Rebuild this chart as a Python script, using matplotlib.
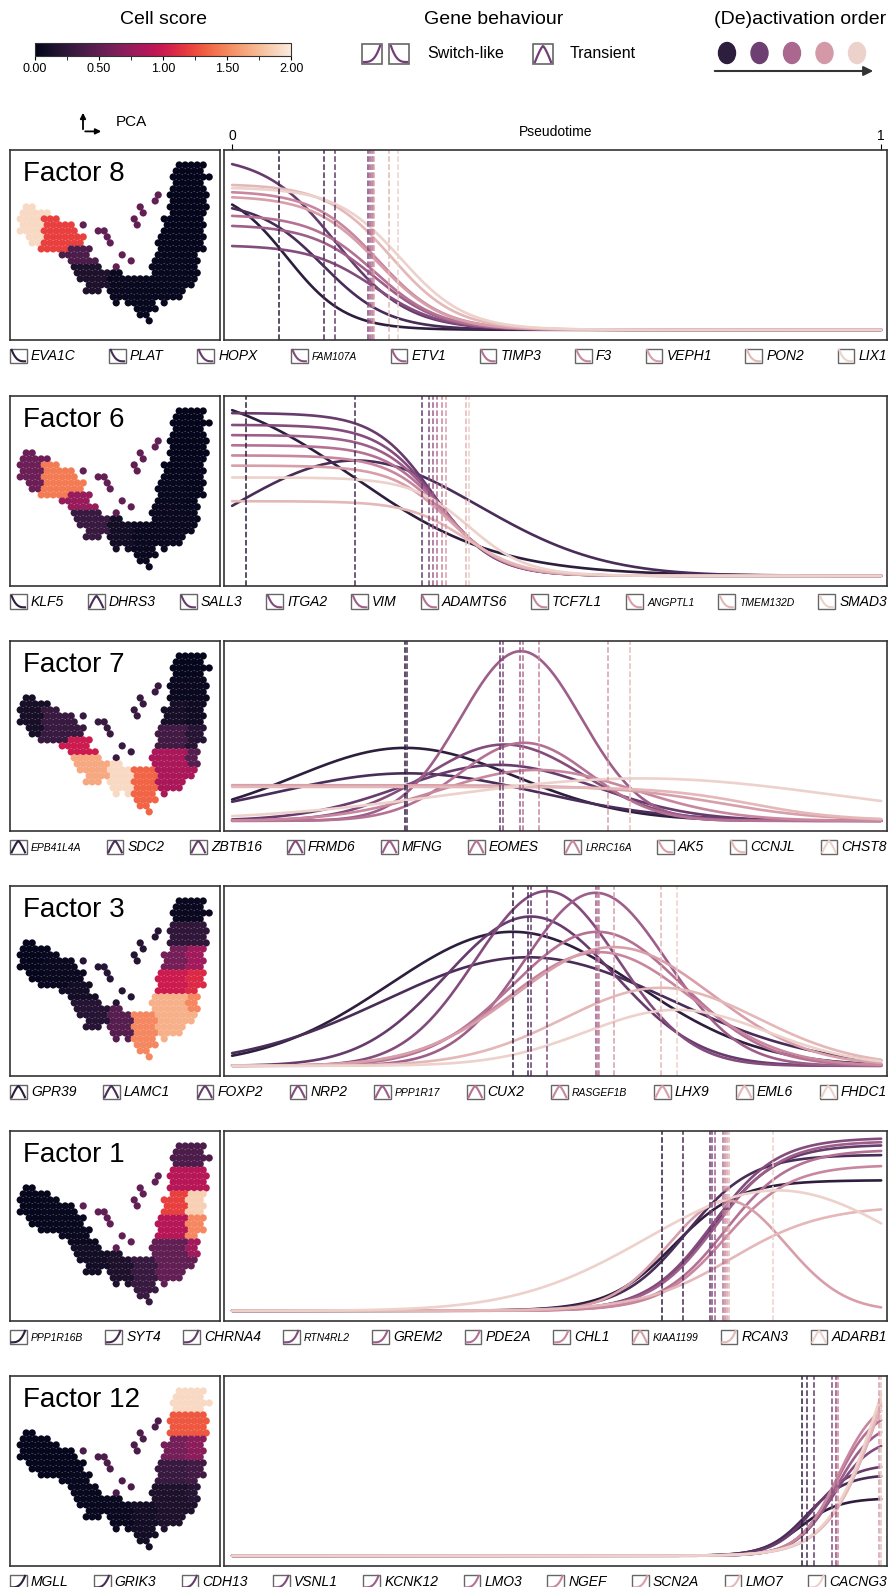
import numpy as np
import matplotlib.pyplot as plt
import seaborn as sns
from matplotlib.patches import Rectangle, Ellipse
from matplotlib.lines import Line2D
from matplotlib.legend_handler import HandlerBase
from matplotlib.cm import ScalarMappable
from matplotlib.colors import Normalize
from matplotlib.ticker import MultipleLocator

plt.rcParams['font.family'] = ['Liberation Sans', 'DejaVu Sans']

# ---------------- data ----------------
# PCA embedding of the cells, read off the picture as a coarse grid.
# letters = position along the trajectory (region), '.' = no cell
pca_grid = [
    "....................................",
    "....................................",
    "....................................",
    "...........................kkkkk....",
    "...........................kkkkk....",
    "..........................kkkkkkk...",
    "...........................kkkkk....",
    "..........................jjjjjj....",
    "........................s.jjjjjjj...",
    ".......................s..jjjjjj....",
    "..aa.................s....jjjjjjj...",
    ".aaaaa...............s....iiiIII....",
    ".aaaabbb............s....iiiiIII....",
    ".aaaabbbbb.s........s....iiiiIII....",
    ".aaaabbbbbb...ss.........iiiiIII....",
    "..aaabbbbbbb...s........hhhhhHHH....",
    "...aabbbbbbb....s.......hhhhhHHH....",
    "....bbbbbcccc...........hhhhhHHH....",
    "........ccccc.....s.....hhhhhHH.....",
    ".........ccccc.....s...ggggggGG.....",
    "..........ddddd..s.....ggggggGG.....",
    "..........ddddddee.....ggggggGG.....",
    "...........dddddeeeeffffggggggg.....",
    "............ddddeeeeffffgggggg......",
    "............ddd.eeeeffffggggg.......",
    "................eeeeffffgggg........",
    ".................e.effff.g..........",
    "....................ffff............",
    ".....................ff.............",
    "......................f.............",
]
regions = "abcdefgGhHiIjks"

factors = [8, 6, 7, 3, 1, 12]
# cell score per region, in the order of `regions`
score_f8 = [1.9, 1.2, 0.4, 0.15, 0.05, 0.04, 0.04, 0.03, 0.03, 0.03, 0.02, 0.02, 0.02, 0.02, 0.5]
score_f6 = [0.55, 1.45, 0.75, 0.3, 0.1, 0.05, 0.05, 0.04, 0.04, 0.03, 0.03, 0.03, 0.02, 0.02, 0.5]
score_f7 = [0.12, 0.3, 1.0, 1.65, 1.9, 1.35, 0.85, 0.45, 0.35, 0.2, 0.12, 0.08, 0.05, 0.03, 0.3]
score_f3 = [0.03, 0.05, 0.1, 0.2, 0.45, 1.5, 1.7, 1.5, 1.0, 1.1, 0.6, 0.8, 0.25, 0.05, 0.2]
score_f1 = [0.03, 0.04, 0.06, 0.1, 0.15, 0.3, 0.5, 0.8, 0.9, 1.5, 1.2, 1.85, 0.9, 0.4, 0.5]
score_f12 = [0.03, 0.03, 0.04, 0.04, 0.05, 0.1, 0.15, 0.2, 0.3, 0.35, 0.6, 0.7, 1.3, 1.9, 0.4]

# genes per factor: name, behaviour, level, midpoint, width, (de)activation time
genes_f8 = ['EVA1C', 'PLAT', 'HOPX', 'FAM107A', 'ETV1', 'TIMP3', 'F3', 'VEPH1', 'PON2', 'LIX1']
kind_f8 = ['down'] * 10
level_f8 = [0.85, 0.76, 1.03, 0.50, 0.62, 0.68, 0.82, 0.79, 0.86, 0.84]
mid_f8 = [0.085, 0.14, 0.16, 0.22, 0.22, 0.22, 0.225, 0.225, 0.245, 0.26]
width_f8 = [0.045, 0.05, 0.055, 0.05, 0.05, 0.05, 0.05, 0.05, 0.05, 0.05]
act_f8 = [0.073, 0.142, 0.159, 0.209, 0.212, 0.215, 0.217, 0.219, 0.242, 0.256]

genes_f6 = ['KLF5', 'DHRS3', 'SALL3', 'ITGA2', 'VIM', 'ADAMTS6', 'TCF7L1', 'ANGPTL1', 'TMEM132D', 'SMAD3']
kind_f6 = ['down', 'peak'] + ['down'] * 8
level_f6 = [1.15, 0.68, 0.96, 0.89, 0.83, 0.77, 0.71, 0.65, 0.44, 0.58]
mid_f6 = [0.19, 0.19, 0.31, 0.315, 0.32, 0.325, 0.33, 0.335, 0.36, 0.365]
width_f6 = [0.11, 0.19, 0.045, 0.045, 0.045, 0.045, 0.045, 0.045, 0.045, 0.045]
act_f6 = [0.022, 0.19, 0.292, 0.303, 0.309, 0.315, 0.324, 0.329, 0.36, 0.365]

genes_f7 = ['EPB41L4A', 'SDC2', 'ZBTB16', 'FRMD6', 'MFNG', 'EOMES', 'LRRC16A', 'AK5', 'CCNJL', 'CHST8']
kind_f7 = ['peak'] * 7 + ['down', 'down', 'peak']
level_f7 = [0.43, 0.28, 0.33, 0.45, 1.0, 0.46, 0.30, 0.21, 0.20, 0.25]
mid_f7 = [0.267, 0.27, 0.41, 0.42, 0.445, 0.45, 0.47, 0.75, 0.80, 0.63]
width_f7 = [0.17, 0.2, 0.15, 0.12, 0.093, 0.1, 0.15, 0.08, 0.07, 0.3]
act_f7 = [0.267, 0.27, 0.412, 0.418, 0.443, 0.448, 0.473, 0.579, 0.613, 0.613]

genes_f3 = ['GPR39', 'LAMC1', 'FOXP2', 'NRP2', 'PPP1R17', 'CUX2', 'RASGEF1B', 'LHX9', 'EML6', 'FHDC1']
kind_f3 = ['peak'] * 10
level_f3 = [0.79, 0.64, 0.88, 1.03, 1.02, 0.79, 0.67, 0.70, 0.46, 0.33]
mid_f3 = [0.432, 0.456, 0.46, 0.485, 0.56, 0.563, 0.566, 0.588, 0.661, 0.685]
width_f3 = [0.19, 0.22, 0.13, 0.11, 0.11, 0.13, 0.14, 0.15, 0.15, 0.14]
act_f3 = [0.432, 0.456, 0.46, 0.485, 0.56, 0.563, 0.566, 0.588, 0.661, 0.685]

genes_f1 = ['PPP1R16B', 'SYT4', 'CHRNA4', 'RTN4RL2', 'GREM2', 'PDE2A', 'CHL1', 'KIAA1199', 'RCAN3', 'ADARB1']
kind_f1 = ['up'] * 7 + ['peak', 'up', 'peak']
level_f1 = [0.77, 0.92, 0.98, 1.02, 1.0, 0.95, 0.86, 0.65, 0.62, 0.71]
mid_f1 = [0.68, 0.70, 0.74, 0.74, 0.745, 0.76, 0.76, 0.763, 0.77, 0.84]
width_f1 = [0.05, 0.05, 0.05, 0.05, 0.05, 0.05, 0.05, 0.09, 0.07, 0.2]
act_f1 = [0.663, 0.694, 0.736, 0.739, 0.744, 0.757, 0.76, 0.763, 0.765, 0.833]

genes_f12 = ['MGLL', 'GRIK3', 'CDH13', 'VSNL1', 'KCNK12', 'LMO3', 'NGEF', 'SCN2A', 'LMO7', 'CACNG3']
kind_f12 = ['up'] * 10
level_f12 = [0.34, 0.48, 0.54, 0.70, 0.80, 0.88, 0.95, 1.7, 1.8, 1.9]
mid_f12 = [0.875, 0.885, 0.895, 0.925, 0.93, 0.931, 0.934, 0.997, 1.0, 1.0]
width_f12 = [0.03, 0.03, 0.03, 0.03, 0.03, 0.03, 0.03, 0.04, 0.04, 0.04]
act_f12 = [0.878, 0.886, 0.897, 0.925, 0.93, 0.931, 0.934, 0.997, 1.0, 1.0]

# labels that are printed smaller in the original
small_labels = ['FAM107A', 'ANGPTL1', 'TMEM132D', 'EPB41L4A', 'LRRC16A', 'PPP1R17',
                'RASGEF1B', 'PPP1R16B', 'RTN4RL2', 'KIAA1199']

rows = [
    (score_f8, genes_f8, kind_f8, level_f8, mid_f8, width_f8, act_f8),
    (score_f6, genes_f6, kind_f6, level_f6, mid_f6, width_f6, act_f6),
    (score_f7, genes_f7, kind_f7, level_f7, mid_f7, width_f7, act_f7),
    (score_f3, genes_f3, kind_f3, level_f3, mid_f3, width_f3, act_f3),
    (score_f1, genes_f1, kind_f1, level_f1, mid_f1, width_f1, act_f1),
    (score_f12, genes_f12, kind_f12, level_f12, mid_f12, width_f12, act_f12),
]

# ---------------- style ----------------
rocket = sns.color_palette("rocket", as_cmap=True)
gene_colors = sns.cubehelix_palette(10, reverse=True)
order_colors = sns.cubehelix_palette(5, reverse=True)
behaviour_color = '#733d78'
frame_color = '#333333'

W, H = 893, 1587
fig = plt.figure(figsize=(W / 100, H / 100), dpi=100)


def rect(x0, y0, x1, y1):
    return [x0 / W, 1 - y1 / H, (x1 - x0) / W, (y1 - y0) / H]


def icon_curve(kind):
    s = np.linspace(0, 1, 40)
    if kind == 'down':
        return s, (1 - s) ** 3
    if kind == 'up':
        return s, s ** 3
    return s, 1 - np.abs(2 * s - 1) ** 1.3


class Gene:
    def __init__(self, kind, color):
        self.kind = kind
        self.color = color


class IconHandler(HandlerBase):
    def create_artists(self, legend, h, xd, yd, width, height, fontsize, trans):
        x0, y0 = -xd, -yd
        box = Rectangle((x0, y0), width, height, fc='none', ec='#666666', lw=1.0, transform=trans)
        xs, ys = icon_curve(h.kind)
        p = 0.1
        line = Line2D(x0 + (p + xs * (1 - 2 * p)) * width, y0 + (p + ys * (1 - 2 * p)) * height,
                      color=h.color, lw=1.5, transform=trans)
        return [box, line]


# overlay in pixel coordinates for the header decorations
ov = fig.add_axes([0, 0, 1, 1])
ov.set_xlim(0, W)
ov.set_ylim(H, 0)
ov.axis('off')


def draw_icon(x0, y0, size, kind, color):
    ov.add_patch(Rectangle((x0, y0), size, size, fc='none', ec='#666666', lw=1.2))
    xs, ys = icon_curve(kind)
    p = 0.1
    ov.plot(x0 + (p + xs * (1 - 2 * p)) * size, y0 + size - (p + ys * (1 - 2 * p)) * size,
            color=color, lw=1.6)


# Cell score colour bar
ov.text(163, 20, 'Cell score', ha='center', va='center', fontsize=14)
cax = fig.add_axes(rect(35, 43, 291, 56))
cb = fig.colorbar(ScalarMappable(norm=Normalize(0, 2), cmap=rocket), cax=cax, orientation='horizontal')
cb.set_ticks([0, 0.5, 1, 1.5, 2])
cb.set_ticklabels(['0.00', '0.50', '1.00', '1.50', '2.00'])
cax.xaxis.set_minor_locator(MultipleLocator(0.25))
cax.tick_params(which='both', length=3, labelsize=9, pad=2)
cb.outline.set_edgecolor(frame_color)

# Gene behaviour legend
ov.text(494, 20, 'Gene behaviour', ha='center', va='center', fontsize=14)
draw_icon(362, 44, 20, 'up', behaviour_color)
draw_icon(389, 44, 20, 'down', behaviour_color)
ov.text(427, 54, 'Switch-like', va='center', fontsize=11.5)
draw_icon(533, 44, 20, 'peak', behaviour_color)
ov.text(570, 54, 'Transient', va='center', fontsize=11.5)

# (De)activation order
ov.text(800, 20, '(De)activation order', ha='center', va='center', fontsize=14)
for i, c in enumerate(order_colors):
    ov.add_patch(Ellipse((727 + 32.5 * i, 53), 17, 21, color=c))
ov.annotate('', xy=(876, 71), xytext=(712, 71),
            arrowprops=dict(arrowstyle='-|>', color='#333333', lw=1.5, mutation_scale=14))

# PCA axes icon
ov.annotate('', xy=(83, 110), xytext=(83, 132),
            arrowprops=dict(arrowstyle='-|>', color='black', lw=1.3, mutation_scale=8))
ov.annotate('', xy=(104, 131.4), xytext=(82.4, 131.4),
            arrowprops=dict(arrowstyle='-|>', color='black', lw=1.3, mutation_scale=8))
ov.text(116, 122, 'PCA', va='center', fontsize=11)

# ---------------- panels ----------------
tops = [150, 396, 641, 886, 1131, 1376]
panel_h = 190
t = np.linspace(0, 1, 400)

cell_rows, cell_cols, cell_region = [], [], []
for r, line in enumerate(pca_grid):
    for c, ch in enumerate(line):
        if ch != '.':
            cell_rows.append(r)
            cell_cols.append(c + 0.5 * (r % 2))  # hexagonal packing
            cell_region.append(regions.index(ch))
cell_rows = np.array(cell_rows)
cell_cols = np.array(cell_cols)
cell_region = np.array(cell_region)

for k, (scores, names, kinds, levels, mids, widths, acts) in enumerate(rows):
    top = tops[k]
    bottom = top + panel_h

    # PCA panel
    axs = fig.add_axes(rect(10, top, 220, bottom))
    axs.scatter(cell_cols, cell_rows, c=np.array(scores)[cell_region], cmap=rocket,
                vmin=0, vmax=2, s=27, linewidths=0)
    axs.set_xlim(-0.7, 34.3)
    axs.set_ylim(32.2, 0.5)
    axs.set_xticks([])
    axs.set_yticks([])
    axs.text(0.06, 0.94, f'Factor {factors[k]}', transform=axs.transAxes,
             ha='left', va='top', fontsize=20)

    # pseudotime panel
    axl = fig.add_axes(rect(224, top, 887, bottom))
    for i in range(len(names)):
        if kinds[i] == 'down':
            y = levels[i] / (1 + np.exp((t - mids[i]) / widths[i]))
        elif kinds[i] == 'up':
            y = levels[i] / (1 + np.exp(-(t - mids[i]) / widths[i]))
        else:
            y = levels[i] * np.exp(-0.5 * ((t - mids[i]) / widths[i]) ** 2)
        axl.plot(t, y, color=gene_colors[i], lw=1.9, solid_capstyle='round')
    for i in range(len(names)):
        axl.axvline(acts[i], color=gene_colors[i], ls='--', lw=1.1)
    axl.set_xlim(-0.0125, 1.009)
    axl.set_ylim(-0.06, 1.06)
    axl.set_yticks([])
    if k == 0:
        axl.xaxis.tick_top()
        axl.set_xticks([0, 1])
        axl.tick_params(axis='x', length=4, labelsize=10, pad=1)
        axl.text(0.5, 1.095, 'Pseudotime', transform=axl.transAxes,
                 ha='center', va='center', fontsize=10)
    else:
        axl.set_xticks([])

    for a in (axs, axl):
        for s in a.spines.values():
            s.set_edgecolor(frame_color)
            s.set_linewidth(1.2)

    # gene legend under the row
    handles = [Gene(kinds[i], gene_colors[i]) for i in range(len(names))]
    leg = fig.legend(handles, names, handler_map={Gene: IconHandler()},
                     loc='upper left', bbox_to_anchor=(10 / W, 1 - (bottom + 26.5) / H, 877 / W, 18 / H),
                     mode='expand', ncol=10, frameon=False, handlelength=1.2, handleheight=1.2,
                     handletextpad=0.3, borderpad=0, borderaxespad=0,
                     prop=dict(style='italic', size=10))
    for txt in leg.get_texts():
        if txt.get_text() in small_labels:
            txt.set_fontsize(7.5)

fig.savefig('out.png', dpi=100)
